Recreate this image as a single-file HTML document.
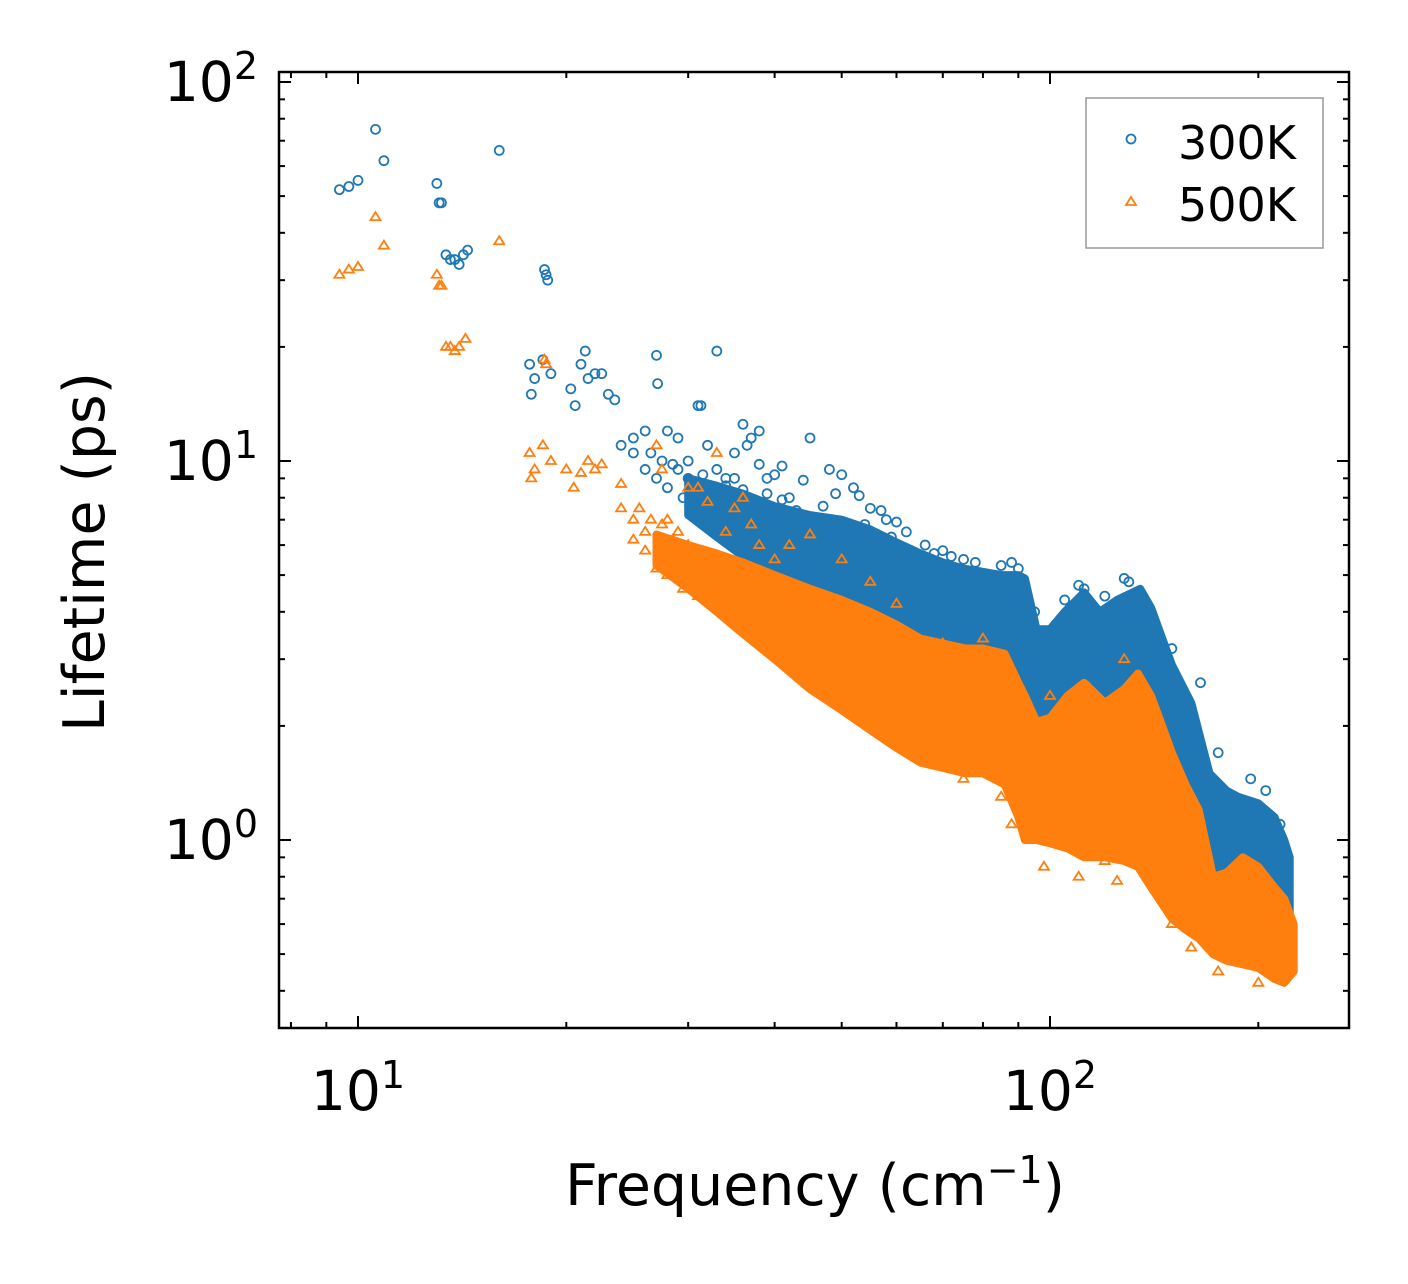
<!DOCTYPE html>
<html><head><meta charset="utf-8"><style>
body{margin:0;background:#fff;}
svg text{font-family:"DejaVu Sans","Liberation Sans",sans-serif;fill:#000;}
</style></head><body>
<svg id="chart" width="1408" height="1279" viewBox="0 0 1408 1279" xmlns="http://www.w3.org/2000/svg">
<g id="bands"></g>
<g id="pts"></g>
<rect x="279" y="72" width="1070" height="956" fill="none" stroke="#000" stroke-width="2.5"/>
<g id="ticks"></g>
<text x="815" y="1205" font-size="57" text-anchor="middle">Frequency (cm<tspan dy="-22" font-size="38">−1</tspan><tspan dy="22">)</tspan></text>
<text transform="translate(104,552) rotate(-90)" font-size="57" text-anchor="middle">Lifetime (ps)</text>
<g>
<rect x="1086" y="98" width="237" height="150" fill="#fff" stroke="#999" stroke-width="1.5"/>
<circle cx="1131" cy="139" r="4.5" fill="none" stroke="#1f77b4" stroke-width="1.8"/>
<text x="1178" y="159" font-size="46">300K</text>
<path d="M1131,197 l5,8 h-10 z" fill="none" stroke="#ff7f0e" stroke-width="1.8"/>
<text x="1178" y="221" font-size="46">500K</text>
</g>
</svg>
<script>
// Blue (300K) dense band envelope
const blueFreq=[30,33,36,40,45,50,55,60,65,70,75,80,85,90,92,95.6,100,105,112,118,125,135,140,150,160,170,180,187,200,211,218,222,222];
const blueUpper=[9.0,8.6,8.2,7.6,7.2,7.0,6.6,6.1,5.7,5.4,5.2,5.1,5.0,5.0,4.9,3.6,3.6,4.0,4.5,4.0,4.3,4.6,4.1,2.9,2.3,1.5,1.35,1.3,1.25,1.15,1.0,0.9,0.6];
const blueLower=[7.2,6.3,5.6,4.8,4.2,3.8,3.5,3.2,3.0,2.8,2.6,2.5,2.4,2.3,2.1,1.9,1.7,1.6,1.6,1.6,1.6,1.7,1.5,1.2,1.0,0.8,0.75,0.7,0.65,0.6,0.58,0.56,0.6];
// Orange (500K) dense band envelope
const orangeFreq=[27,30,33,36,40,45,50,55,60,65,70,75.5,80,86,90,92,95.6,100,106,112,120,128,134,140,150,157,164,172,180,190,200,211,218,225,225];
const orangeUpper=[6.4,6.0,5.7,5.4,5.0,4.6,4.3,4.0,3.7,3.4,3.3,3.2,3.2,3.1,2.6,2.4,2.05,2.1,2.4,2.6,2.3,2.5,2.75,2.4,1.7,1.4,1.2,0.8,0.82,0.9,0.85,0.75,0.7,0.6,0.5];
const orangeLower=[5.3,4.6,4.0,3.5,3.0,2.5,2.2,1.95,1.75,1.6,1.55,1.5,1.5,1.4,1.15,1.0,1.0,0.98,0.95,0.9,0.9,0.88,0.85,0.75,0.62,0.58,0.55,0.5,0.48,0.47,0.46,0.43,0.42,0.45,0.5];
// Sparse points
const blueX=[9.4,9.7,10,10.6,10.9,13,13.1,13.2,13.4,13.6,13.8,14,14.2,14.4,16,18.6,18.7,18.8,17.7,17.8,18,18.5,19,20.3,20.6,21,21.3,21.5,22,22.5,23,23.5,24,25,26,27,27.1,28,29,30,31,31.3,32,33,34,35,36,37,38,39,40,42,45,48,50,52,55,58,62,70,75,90,112,128,36.5,41,44,47,53,57,60,66,26.5,28.5,
 25,26,27,27.5,28,29,29.5,30,30.5,31,31.5,32,32.5,33,34,34.5,35,36,37,38,39,40,41,43,46,49,51,54,56,59,63,68,72,78,85,88,95,105,110,120,130,150,165,175,195,205,215];
const blueY=[52,53,55,75,62,54,48,48,35,34,34,33,35,36,66,32,31,30,18,15,16.5,18.5,17,15.5,14,18,19.5,16.5,17,17,15,14.5,11,11.5,12,19,16,12,11.5,10,14,14,11,19.5,9,10.5,12.5,11.5,12,9,9.2,8,11.5,9.5,9.2,8.5,7.5,7,6.5,5.8,5.5,5.2,4.6,4.9,11,9.7,8.9,7.6,8.1,7.4,6.9,6.0,10.5,9.8,
 10.5,9.5,9,10,8.5,9.5,8,9,7.8,8.8,9.2,8.2,7.5,9.5,8.6,7.2,9,8.4,7.6,9.8,8.2,7.5,7.9,7.4,6.9,8.2,6.6,6.8,6.2,6.3,5.8,5.7,5.6,5.4,5.3,5.4,4.0,4.3,4.7,4.4,4.8,3.2,2.6,1.7,1.45,1.35,1.1];
const orangeX=[9.4,9.7,10,10.6,10.9,13,13.1,13.2,13.4,13.6,13.8,14,14.3,16,17.7,17.8,18,18.5,18.6,18.7,19,20,20.5,21,21.5,22,22.5,24,25,25.5,26,27,27.5,28,29,30,31,32,33,34,35,36,37,38,40,42,45,50,55,60,70,80,100,128,120,140,170,98,88,
 24,25,26,26.5,27,27.5,28,28.5,29,29.5,30,31,32,33,34,35,36,38,40,42,44,47,52,57,62,66,75,85,95,110,125,150,160,175,200];
const orangeY=[31,32,32.5,44,37,31,29,29,20,20,19.5,20,21,38,10.5,9,9.5,11,18.5,18,10,9.5,8.5,9.3,10,9.5,9.8,8.7,7,7.5,6.5,11,9.5,7,6.5,8.5,8.5,7.8,10.5,6.5,7.5,8,6.8,6,5.5,6,6.4,5.5,4.8,4.2,3.3,3.4,2.4,3.0,0.88,0.85,0.55,0.85,1.1,
 7.5,6.2,5.8,7,5.2,6.8,5.0,6.2,5.5,4.6,6.0,4.4,5.6,4.1,4.8,3.9,5.2,3.6,3.3,4.6,2.9,4.1,3.6,3.6,2.0,1.8,1.45,1.3,1.0,0.8,0.78,0.6,0.52,0.45,0.42];

const X0=358,DX=692,Y1=461,DY=379;
const xs=f=>X0+DX*Math.log10(f/10);
const ys=v=>Y1-DY*Math.log10(v/10);
const NS='http://www.w3.org/2000/svg';
function mk(tag,attrs,parent){const e=document.createElementNS(NS,tag);for(const k in attrs)e.setAttribute(k,attrs[k]);parent.appendChild(e);return e;}
const bands=document.getElementById('bands'),pts=document.getElementById('pts'),tk=document.getElementById('ticks');
function band(fr,up,lo,col,name){
  let d='';fr.forEach((f,i)=>{d+=(i?'L':'M')+xs(f).toFixed(1)+','+ys(up[i]).toFixed(1);});
  for(let i=fr.length-1;i>=0;i--)d+='L'+xs(fr[i]).toFixed(1)+','+ys(lo[i]).toFixed(1);
  const p=mk('path',{d:d+'Z',fill:col,stroke:col,'stroke-width':8,'stroke-linejoin':'round'},bands);
  
  
}
band(blueFreq,blueUpper,blueLower,'#1f77b4','band-300k');
blueX.forEach((f,i)=>{const c=mk('circle',{cx:xs(f),cy:ys(blueY[i]),r:4.5,fill:'none',stroke:'#1f77b4','stroke-width':1.8},pts);
  
  });
band(orangeFreq,orangeUpper,orangeLower,'#ff7f0e','band-500k');
orangeX.forEach((f,i)=>{const x=xs(f),y=ys(orangeY[i]);const c=mk('path',{d:`M${x},${y-5} l5,8 h-10 z`,fill:'none',stroke:'#ff7f0e','stroke-width':1.8},pts);
  
  });
// ticks
const L=279,R=1349,T=72,B=1028;
function tick(x1,y1,x2,y2,w){mk('line',{x1,y1,x2,y2,stroke:'#000','stroke-width':w||2},tk);}
for(let e=0;e<3;e++)for(let m=1;m<10;m++){const f=m*Math.pow(10,e);const x=xs(f);if(x<L||x>R)continue;const len=m==1?12:6;tick(x,B,x,B-len);tick(x,T,x,T+len);}
for(let e=-1;e<3;e++)for(let m=1;m<10;m++){const v=m*Math.pow(10,e);const y=ys(v);if(y<T-1||y>B)continue;const len=m==1?12:6;tick(L,y,L+len,y);tick(R,y,R-len,y);}
[[10,'1'],[100,'2']].forEach(([f,e])=>{const t=mk('text',{x:xs(f),y:1110,'font-size':55,'text-anchor':'middle'},tk);t.innerHTML=`10<tspan dy="-22" font-size="38">${e}</tspan>`;
  
  });
[[100,'2'],[10,'1'],[1,'0']].forEach(([v,e])=>{const t=mk('text',{x:258,y:ys(v)+19,'font-size':55,'text-anchor':'end'},tk);t.innerHTML=`10<tspan dy="-22" font-size="38">${e}</tspan>`;
  
  });
</script>
</body></html>
